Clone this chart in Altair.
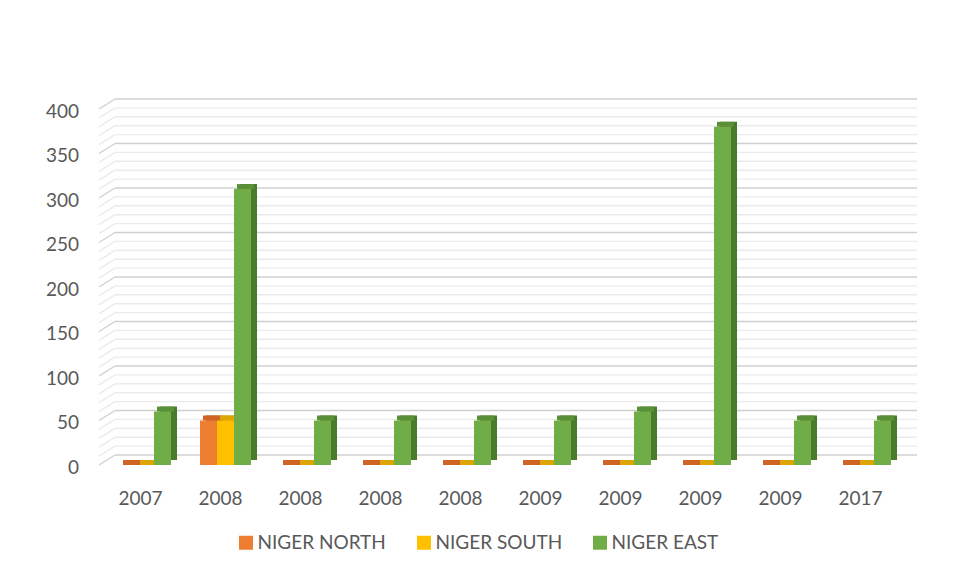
import altair as alt
import pandas as pd

categories = ["2007", "2008", "2008", "2008", "2008", "2009", "2009", "2009", "2009", "2017"]
series_names = ["NIGER NORTH", "NIGER SOUTH", "NIGER EAST"]
north = [0, 50, 0, 0, 0, 0, 0, 0, 0, 0]
south = [0, 50, 0, 0, 0, 0, 0, 0, 0, 0]
east = [60, 310, 50, 50, 50, 50, 60, 380, 50, 50]
front_colors = ["#ED7D31", "#FFC000", "#70AD47"]
side_colors = ["#B35A1C", "#C29200", "#4A7A2C"]
top_colors = ["#CE6524", "#DDA600", "#5A9136"]
grid_values = list(range(0, 401, 10))
y_ticks = list(range(0, 401, 50))

rows = []
for s_i, (name, vals) in enumerate(zip(series_names, [north, south, east])):
    for i, v in enumerate(vals):
        rows.append({"idx": i, "s": s_i, "series": name, "value": v,
                     "side": side_colors[s_i], "top": top_colors[s_i]})
df = pd.DataFrame(rows)
grid = pd.DataFrame({"v": grid_values})

label_expr = "[" + ",".join("'" + c + "'" for c in categories) + "][datum.value]"

FONT = "Lato"
TXT = "#595959"
CLUSTER = 0.6375          # share of each category step filled by the cluster
BAR = CLUSTER / 3

x_scale = alt.Scale(domain=[-0.5, len(categories) - 0.5], nice=False, zero=False)
x_enc = alt.X("x0:Q", scale=x_scale,
              axis=alt.Axis(title=None, values=list(range(len(categories))), labelExpr=label_expr,
                            domain=False, ticks=False, grid=False, labelAngle=0,
                            labelFontSize=19, labelColor=TXT, labelFont=FONT,
                            labelPadding=24, labelOffset=-5.5))
x2_enc = alt.X2("x1:Q")
y_scale = alt.Scale(domain=[0, 400], nice=False)
y_enc = alt.Y("value:Q", scale=y_scale,
              axis=alt.Axis(title=None, values=y_ticks, domain=False, ticks=False, grid=False,
                            labelFontSize=19, labelColor=TXT, labelFont=FONT,
                            labelPadding=27, labelOffset=2))

grid_color = alt.condition("datum.v % 50 === 0", alt.value("#D0D0D0"), alt.value("#EBEBEB"))

grid_h = alt.Chart(grid).mark_rule(strokeWidth=1.4, yOffset=-10).encode(
    x=alt.value(9.5), x2=alt.value(811.5),
    y=alt.Y("v:Q", scale=y_scale),
    color=grid_color,
)
grid_d = alt.Chart(grid).mark_rule(strokeWidth=1.4, y2Offset=-10).encode(
    x=alt.value(-6.5), x2=alt.value(9.5),
    y=alt.Y("v:Q", scale=y_scale), y2=alt.Y2("v:Q"),
    color=grid_color,
)

base = alt.Chart(df).transform_calculate(
    x0=f"datum.idx - {CLUSTER / 2} + datum.s * {BAR}",
    x1=f"datum.idx - {CLUSTER / 2} + (datum.s + 1) * {BAR}",
)

side = base.mark_bar(xOffset=6, x2Offset=6, yOffset=-5, y2Offset=-5).encode(
    x=x_enc, x2=x2_enc, y=y_enc, y2=alt.datum(0),
    color=alt.Color("side:N", scale=None),
)
top = base.mark_bar(xOffset=3, x2Offset=3, y2Offset=-5).encode(
    x=x_enc, x2=x2_enc, y=y_enc, y2=alt.Y2("value:Q"),
    color=alt.Color("top:N", scale=None),
)
front = base.mark_bar().encode(
    x=x_enc, x2=x2_enc, y=y_enc, y2=alt.datum(0),
    color=alt.Color("series:N", sort=series_names,
                    scale=alt.Scale(domain=series_names, range=front_colors),
                    legend=alt.Legend(title=None, orient="none", legendX=131, legendY=424,
                                      direction="horizontal", symbolType="square",
                                      symbolSize=196, symbolStrokeWidth=0,
                                      labelFontSize=19, labelColor=TXT, labelFont=FONT,
                                      labelOffset=2, columnPadding=28)),
)

chart = alt.layer(grid_h, grid_d, side, top, front).properties(
    width=800, height=356,
    padding={"left": 97.5, "top": 101, "right": 40, "bottom": 104},
    autosize="none",
).configure(font=FONT).configure_view(stroke=None)

chart.save("out.html", embed_options={"renderer": "svg", "actions": False})
